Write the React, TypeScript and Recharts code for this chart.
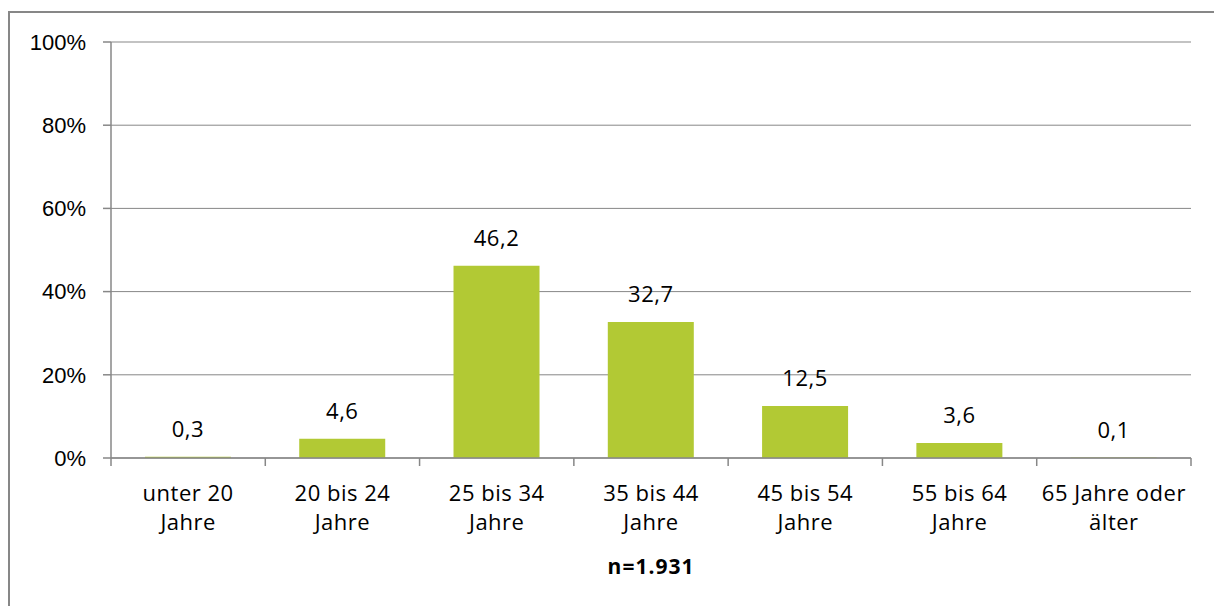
import { BarChart, Bar, XAxis, YAxis, CartesianGrid, LabelList } from "recharts";

const categories = [
  "unter 20\nJahre",
  "20 bis 24\nJahre",
  "25 bis 34\nJahre",
  "35 bis 44\nJahre",
  "45 bis 54\nJahre",
  "55 bis 64\nJahre",
  "65 Jahre oder\nälter",
];
const shares = [0.3, 4.6, 46.2, 32.7, 12.5, 3.6, 0.1];
const yTicks = [0, 20, 40, 60, 80, 100];
const sampleNote = "n=1.931";

const data = categories.map((c, i) => ({ name: c, value: shares[i] }));

const PLOT_W = 1080;
const STEP = PLOT_W / categories.length;
const GRAY = "#878787";

// category label in two lines + boundary tick marks (Excel style)
const CategoryTick = (props: any) => {
  const { x, y, payload, index } = props;
  const lines = String(payload.value).split("\n");
  const left = x - STEP / 2;
  const right = x + STEP / 2;
  return (
    <g>
      <line x1={left} x2={left} y1={y} y2={y + 8} stroke={GRAY} strokeWidth={1.5} />
      {index === categories.length - 1 && (
        <line x1={right} x2={right} y1={y} y2={y + 8} stroke={GRAY} strokeWidth={1.5} />
      )}
      {lines.map((l, i) => (
        <text
          key={i}
          x={x}
          y={y + 43 + i * 29}
          textAnchor="middle"
          fontFamily="Open Sans"
          fontSize={22}
          letterSpacing={0.5}
          fill="#000"
        >
          {l}
        </text>
      ))}
    </g>
  );
};

export default function App() {
  return (
    <div style={{ position: "absolute", left: 0, top: 0, width: 1214, height: 606, background: "#fff" }}>
      <div
        style={{
          position: "absolute",
          left: 8,
          top: 11,
          width: 1214,
          height: 606,
          borderLeft: `2.5px solid ${GRAY}`,
          borderTop: `2.5px solid ${GRAY}`,
        }}
      />
      <div style={{ position: "absolute", left: 0, top: 0 }}>
        <BarChart
          width={1214}
          height={606}
          data={data}
          margin={{ top: 42, right: 23, bottom: 0, left: 0 }}
          barCategoryGap="22%"
        >
          <CartesianGrid horizontal vertical={false} stroke={GRAY} strokeWidth={1} />
          <YAxis
            type="number"
            domain={[0, 100]}
            ticks={yTicks}
            interval={0}
            width={111}
            tickSize={8}
            tickMargin={17}
            tickFormatter={(v: number) => `${v}%`}
            tick={{ fontFamily: "Liberation Sans", fontSize: 22, fill: "#000" }}
            stroke={GRAY}
            strokeWidth={1.5}
          />
          <XAxis
            dataKey="name"
            height={148}
            tickSize={0}
            tickMargin={0}
            interval={0}
            tick={<CategoryTick />}
            stroke={GRAY}
            strokeWidth={1.5}
            label={{
              value: sampleNote,
              position: "insideBottom",
              offset: 32,
              fontFamily: "Open Sans",
              fontWeight: 700,
              fontSize: 21,
              letterSpacing: 1,
              fill: "#000",
            }}
          />
          <Bar dataKey="value" fill="#b2c934" isAnimationActive={false}>
            <LabelList
              dataKey="value"
              position="top"
              offset={20}
              formatter={(v: any) => String(v).replace(".", ",")}
              style={{ fontFamily: "Open Sans", fontSize: 22, letterSpacing: 0.5, fill: "#000" }}
            />
          </Bar>
        </BarChart>
      </div>
    </div>
  );
}
